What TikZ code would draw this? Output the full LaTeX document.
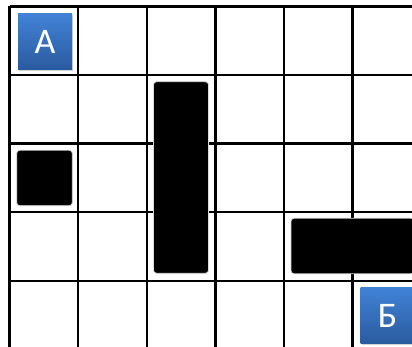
\documentclass[tikz,border=0pt]{standalone}
\usepackage{fontspec}
\setmainfont{Carlito}
\usetikzlibrary{shadows}
\definecolor{tiletop}{HTML}{4182D6}
\definecolor{tilebot}{HTML}{2A5B9F}
\tikzset{
  gridline/.style={line width=2.4pt},
  wall/.style={fill=black, draw=gray!30, line width=0.8pt, rounded corners=3pt, inner sep=0pt},
  endpoint/.style={top color=tiletop, bottom color=tilebot, draw=none, inner sep=0pt,
    minimum width=54pt, minimum height=56pt, text=white,
    font=\fontsize{36}{36}\selectfont,
    drop shadow={shadow xshift=1.2pt, shadow yshift=-1.2pt, opacity=0.35}},
}
\begin{document}
\begin{tikzpicture}[x=1pt, y=-1pt]
    \useasboundingbox (0,0) rectangle (412,347);
    \clip (0,0) rectangle (412,347);
    % сетка
    \foreach \i in {0,...,5}
        \draw[gridline] (9.5+68.6*\i,6.5) -- (9.5+68.6*\i,360);
    \foreach \j in {0,...,4}
        \draw[gridline] (9.5,6.5+68.6*\j) -- (420,6.5+68.6*\j);
    % препятствия
    \node[wall, minimum width=55.5pt, minimum height=55.5pt] (wallA) at (44.5,178) {};
    \node[wall, minimum width=55pt, minimum height=191.5pt] (wallB) at (181,177.5) {};
    \node[wall, minimum width=123pt, minimum height=55.5pt] (wallC) at (352.5,246) {};
    % начало и конец
    \node[endpoint] (start) at (45,42) {А};
    \node[endpoint] (goal) at (387.5,315.5) {Б};
\end{tikzpicture}
\end{document}
